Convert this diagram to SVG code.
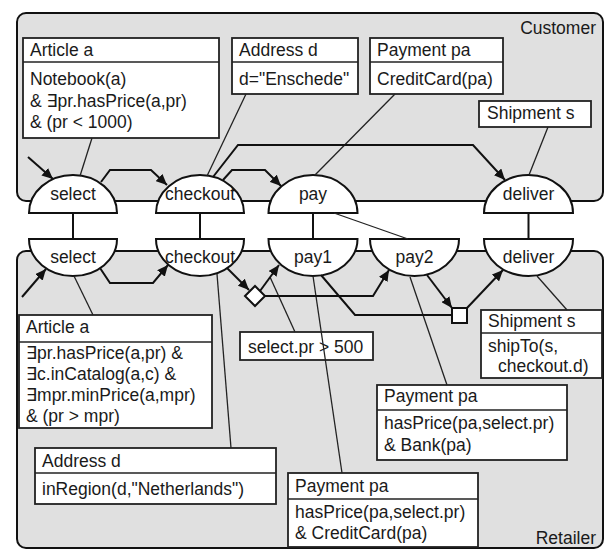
<svg xmlns="http://www.w3.org/2000/svg" width="605" height="551" viewBox="0 0 605 551">
  <style>
    text { font-family: "Liberation Sans", Arial, "DejaVu Sans", sans-serif; font-size: 17.5px; fill: #1a1a1a; }
    .lane { fill: #e0e0e0; stroke: #111; stroke-width: 2; }
    .task { fill: #fff; stroke: #111; stroke-width: 2; }
    .box { fill: #fff; stroke: #222; stroke-width: 1.8; }
    .div { stroke: #222; stroke-width: 1.6; }
    .flow { fill: none; stroke: #111; stroke-width: 2; stroke-linejoin: miter; }
    .flowA { fill: none; stroke: #111; stroke-width: 2; marker-end: url(#arrow); }
    .link { fill: none; stroke: #222; stroke-width: 1.3; }
    .sync { fill: none; stroke: #111; stroke-width: 2; }
    .mid { text-anchor: middle; }
    .end { text-anchor: end; }
  </style>
  <defs>
    <marker id="arrow" markerUnits="userSpaceOnUse" markerWidth="12" markerHeight="10" refX="11" refY="5" orient="auto">
      <path d="M0,0 L11,5 L0,10 z" fill="#111"/>
    </marker>
  </defs>

  <!-- swimlanes -->
  <g id="lane-customer">
    <rect class="lane" x="17" y="13" width="586" height="188" rx="9"/>
    <text class="end" x="596" y="34">Customer</text>
  </g>
  <g id="lane-retailer">
    <rect class="lane" x="17" y="251" width="586" height="297" rx="9"/>
    <text class="end" x="596" y="544">Retailer</text>
  </g>

  <!-- customer tasks (upper half-discs) -->
  <g id="c-select">
    <path class="task" d="M29,213 A44,38 0 0 1 117,213 Z"/>
    <text class="mid" x="73" y="200">select</text>
  </g>
  <g id="c-checkout">
    <path class="task" d="M156,213 A44,38 0 0 1 244,213 Z"/>
    <text class="mid" x="200" y="200">checkout</text>
  </g>
  <g id="c-pay">
    <path class="task" d="M268.5,213 A44.5,38 0 0 1 357.5,213 Z"/>
    <text class="mid" x="313" y="200">pay</text>
  </g>
  <g id="c-deliver">
    <path class="task" d="M484,213 A44.5,38 0 0 1 573,213 Z"/>
    <text class="mid" x="528.5" y="200">deliver</text>
  </g>

  <!-- retailer tasks (lower half-discs) -->
  <g id="r-select">
    <path class="task" d="M29,239 A44,37 0 0 0 117,239 Z"/>
    <text class="mid" x="73" y="263">select</text>
  </g>
  <g id="r-checkout">
    <path class="task" d="M156,239 A44,37 0 0 0 244,239 Z"/>
    <text class="mid" x="200" y="263">checkout</text>
  </g>
  <g id="r-pay1">
    <path class="task" d="M268.5,239 A44.5,37 0 0 0 357.5,239 Z"/>
    <text class="mid" x="313" y="263">pay1</text>
  </g>
  <g id="r-pay2">
    <path class="task" d="M370,239 A44.5,37 0 0 0 459,239 Z"/>
    <text class="mid" x="414.5" y="263">pay2</text>
  </g>
  <g id="r-deliver">
    <path class="task" d="M484,239 A44.5,37 0 0 0 573,239 Z"/>
    <text class="mid" x="528.5" y="263">deliver</text>
  </g>

  <!-- gateways -->
  <g id="r-split">
    <path d="M245,296 L255,286 L265,296 L255,306 Z" fill="#fff" stroke="#111" stroke-width="2"/>
  </g>
  <g id="r-join">
    <rect x="452" y="308" width="15" height="15" fill="#fff" stroke="#111" stroke-width="2"/>
  </g>

  <!-- customer annotations -->
  <g id="c-article">
    <rect class="box" x="23" y="38" width="196" height="100"/>
    <line class="div" x1="23" y1="62" x2="219" y2="62"/>
    <text x="30" y="56">Article a</text>
    <text x="30" y="85">Notebook(a)</text>
    <text x="30" y="106.5">&amp; ∃pr.hasPrice(a,pr)</text>
    <text x="30" y="128">&amp; (pr &lt; 1000)</text>
  </g>
  <g id="c-address">
    <rect class="box" x="232" y="38" width="126" height="56"/>
    <line class="div" x1="232" y1="62" x2="358" y2="62"/>
    <text x="239" y="56">Address d</text>
    <text x="239" y="85">d="Enschede"</text>
  </g>
  <g id="c-payment">
    <rect class="box" x="370" y="38" width="133" height="56"/>
    <line class="div" x1="370" y1="62" x2="503" y2="62"/>
    <text x="377" y="56">Payment pa</text>
    <text x="377" y="85">CreditCard(pa)</text>
  </g>
  <g id="c-shipment">
    <rect class="box" x="479" y="101" width="112" height="26"/>
    <text x="487" y="119">Shipment s</text>
  </g>

  <!-- retailer annotations -->
  <g id="r-article">
    <rect class="box" x="19" y="315" width="193" height="113"/>
    <line class="div" x1="19" y1="342" x2="212" y2="342"/>
    <text x="26" y="333">Article a</text>
    <text x="26" y="359">∃pr.hasPrice(a,pr) &amp;</text>
    <text x="26" y="380">∃c.inCatalog(a,c) &amp;</text>
    <text x="26" y="401">∃mpr.minPrice(a,mpr)</text>
    <text x="26" y="422">&amp; (pr &gt; mpr)</text>
  </g>
  <g id="r-address">
    <rect class="box" x="35" y="448" width="241" height="56"/>
    <line class="div" x1="35" y1="473" x2="276" y2="473"/>
    <text x="42" y="467">Address d</text>
    <text x="42" y="495">inRegion(d,"Netherlands")</text>
  </g>
  <g id="r-condition">
    <rect class="box" x="240" y="332" width="133" height="28"/>
    <text x="248" y="353">select.pr &gt; 500</text>
  </g>
  <g id="r-payment-bank">
    <rect class="box" x="377" y="385" width="190" height="75"/>
    <line class="div" x1="377" y1="410" x2="567" y2="410"/>
    <text x="384" y="402">Payment pa</text>
    <text x="384" y="429">hasPrice(pa,select.pr)</text>
    <text x="384" y="451">&amp; Bank(pa)</text>
  </g>
  <g id="r-payment-card">
    <rect class="box" x="288" y="473" width="190" height="74"/>
    <line class="div" x1="288" y1="499" x2="478" y2="499"/>
    <text x="295" y="492">Payment pa</text>
    <text x="295" y="518">hasPrice(pa,select.pr)</text>
    <text x="295" y="539">&amp; CreditCard(pa)</text>
  </g>
  <g id="r-shipment">
    <rect class="box" x="481" y="310" width="121" height="68"/>
    <line class="div" x1="481" y1="333" x2="602" y2="333"/>
    <text x="488" y="327">Shipment s</text>
    <text x="488" y="352">shipTo(s,</text>
    <text x="498" y="372">checkout.d)</text>
  </g>

  <!-- connectors -->
  <g id="connectors">
    <!-- links between matching tasks -->
    <line class="sync" x1="73" y1="213" x2="73" y2="239"/>
    <line class="sync" x1="200" y1="213" x2="200" y2="239"/>
    <line class="sync" x1="313" y1="213" x2="313" y2="239"/>
    <line class="sync" x1="528.5" y1="213" x2="528.5" y2="239"/>
    <line class="link" x1="334" y1="213" x2="408" y2="239"/>

    <!-- annotation links -->
    <line class="link" x1="92" y1="138" x2="80" y2="176"/>
    <line class="link" x1="246" y1="94" x2="207" y2="176"/>
    <line class="link" x1="395" y1="94" x2="315" y2="175"/>
    <line class="link" x1="548" y1="127" x2="529" y2="175"/>
    <line class="link" x1="74" y1="276" x2="93" y2="315"/>
    <line class="link" x1="217" y1="274" x2="231" y2="448"/>
    <line class="link" x1="270" y1="277" x2="295" y2="332"/>
    <line class="link" x1="313" y1="276" x2="342" y2="473"/>
    <line class="link" x1="410" y1="277" x2="447" y2="385"/>
    <line class="link" x1="537" y1="276" x2="567" y2="310"/>

    <!-- customer flow -->
    <line class="flowA" x1="28" y1="157" x2="53" y2="179"/>
    <polyline class="flowA" points="101,182 110,170 151,170 167,185"/>
    <polyline class="flowA" points="223,180 232,170 265,170 281,186"/>
    <polyline class="flowA" points="213,177 238,145 473,145 505,180"/>

    <!-- retailer flow -->
    <line class="flowA" x1="22" y1="297" x2="46" y2="269"/>
    <polyline class="flowA" points="100,268 110,283 153,283 168,265"/>
    <line class="flowA" x1="227" y1="268" x2="249" y2="290"/>
    <line class="flowA" x1="260" y1="291" x2="279" y2="265"/>
    <polyline class="flowA" points="265,296 373,296 389,270"/>
    <polyline class="flow" points="321,275 355,315 452,315"/>
    <line class="flowA" x1="427" y1="275" x2="452" y2="308"/>
    <line class="flowA" x1="467" y1="308" x2="503" y2="270"/>
  </g>
</svg>
